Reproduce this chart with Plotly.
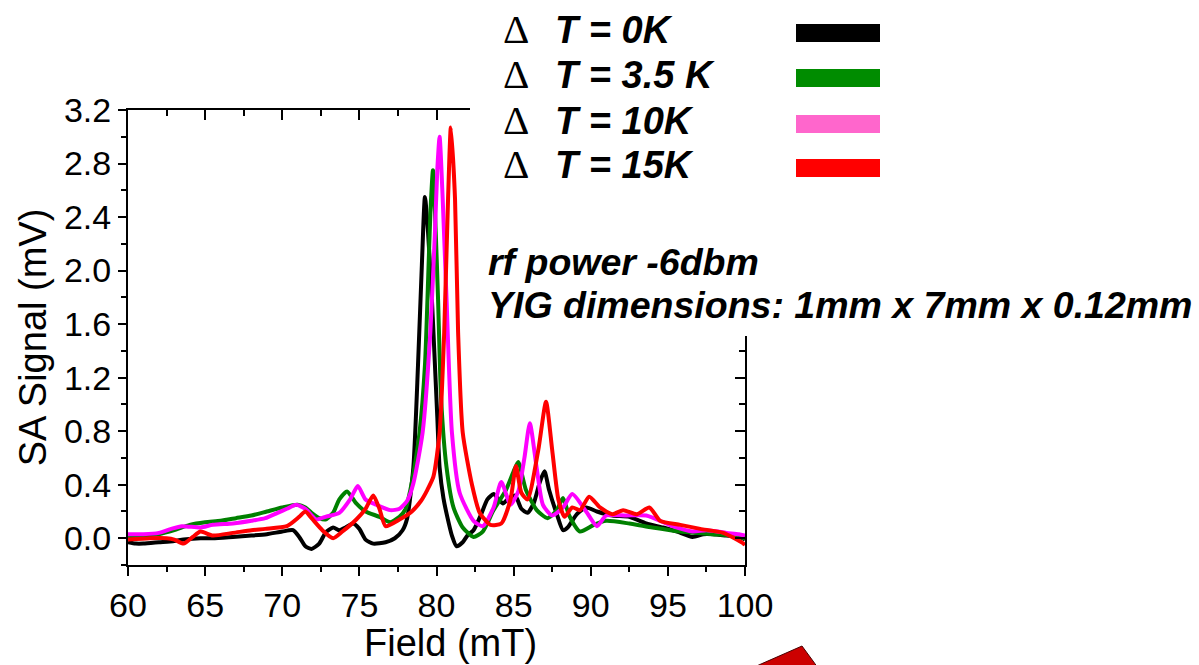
import plotly.graph_objects as go

# ---------------- data ----------------
black_field = [60.0, 60.5, 61.0, 62.0, 63.0, 63.6, 64.7, 65.5, 66.8, 68.0, 69.0, 70.0, 70.7,
               71.1, 71.5, 71.9, 72.4, 72.8, 73.3, 73.7, 74.1, 74.6, 75.0, 75.4, 75.9, 76.7,
               77.3, 77.8, 78.1, 78.5, 78.8, 79.05, 79.25, 79.45, 79.7, 79.9, 80.05, 80.2,
               80.45, 80.7, 81.0, 81.3, 81.7, 82.0, 82.4, 82.9, 83.3, 83.7, 84.3, 84.7, 85.1,
               85.5, 85.9, 86.3, 86.7, 87.0, 87.3, 87.8, 88.2, 88.5, 89.1, 89.7, 90.4, 91.4,
               92.5, 93.6, 94.7, 95.6, 96.6, 97.3, 97.9, 98.8, 99.6, 100.0]
black_signal = [-0.03, -0.04, -0.04, -0.03, -0.02, -0.01, 0.00, 0.00, 0.01, 0.02, 0.03, 0.05, 0.06,
                0.01, -0.06, -0.08, -0.04, 0.04, 0.08, 0.06, 0.08, 0.11, 0.07, -0.01, -0.04, -0.03,
                0.00, 0.06, 0.15, 0.53, 1.29, 2.04, 2.55, 2.29, 1.79, 1.29, 0.91, 0.53,
                0.30, 0.16, 0.02, -0.06, -0.03, 0.02, 0.06, 0.18, 0.29, 0.33, 0.26, 0.30, 0.32,
                0.22, 0.19, 0.26, 0.42, 0.50, 0.36, 0.18, 0.06, 0.08, 0.18, 0.23, 0.20, 0.17,
                0.16, 0.11, 0.08, 0.05, 0.01, 0.03, 0.03, 0.02, 0.01, -0.01]

green_field = [60.0, 61.0, 62.0, 63.0, 64.0, 65.0, 66.0, 67.0, 68.0, 69.0, 70.0, 71.0, 71.5,
               71.9, 72.4, 72.8, 73.3, 73.7, 74.2, 74.8, 75.4, 76.3, 77.0, 77.6, 78.0, 78.3,
               78.6, 78.9, 79.25, 79.45, 79.6, 79.77, 79.95, 80.1, 80.3, 80.65, 81.1, 81.7,
               82.4, 83.0, 83.7, 84.5, 85.0, 85.3, 85.8, 86.5, 87.2, 87.8, 88.2, 88.6, 89.3,
               90.2, 91.0, 92.5, 94.0, 95.8, 97.9, 99.0, 100.0]
green_signal = [0.01, 0.02, 0.03, 0.06, 0.10, 0.12, 0.13, 0.15, 0.17, 0.20, 0.23, 0.25, 0.23,
                0.19, 0.15, 0.14, 0.19, 0.29, 0.35, 0.26, 0.20, 0.16, 0.12, 0.16, 0.22, 0.36,
                0.55, 0.79, 1.29, 1.91, 2.42, 2.75, 2.29, 1.79, 1.04, 0.53, 0.23, 0.08,
                0.01, 0.05, 0.21, 0.36, 0.50, 0.57, 0.36, 0.21, 0.15, 0.21, 0.30, 0.17, 0.05,
                0.10, 0.13, 0.11, 0.08, 0.05, 0.03, 0.02, 0.00]

magenta_field = [60.0, 61.0, 62.0, 62.8, 63.5, 64.7, 65.5, 66.8, 68.0, 68.9, 69.7, 70.3, 70.9,
                 71.5, 72.2, 72.8, 73.7, 74.4, 74.9, 75.4, 76.1, 77.0, 77.6, 78.1, 78.5, 79.1,
                 79.6, 79.9, 80.05, 80.2, 80.4, 80.65, 81.0, 81.5, 82.4, 83.0, 83.7, 84.2, 84.8,
                 85.3, 85.7, 86.05, 86.5, 86.9, 87.5, 88.2, 88.8, 89.7, 90.4, 91.0, 92.3, 93.6,
                 95.3, 96.6, 97.5, 98.8, 99.6, 100.0]
magenta_signal = [0.03, 0.03, 0.04, 0.07, 0.09, 0.08, 0.10, 0.11, 0.13, 0.15, 0.19, 0.22, 0.25,
                  0.22, 0.14, 0.16, 0.19, 0.29, 0.39, 0.29, 0.25, 0.21, 0.22, 0.28, 0.41, 0.79,
                  1.54, 2.29, 2.75, 3.00, 2.54, 1.79, 0.79, 0.34, 0.13, 0.09, 0.23, 0.42, 0.25,
                  0.35, 0.60, 0.86, 0.52, 0.25, 0.17, 0.23, 0.33, 0.20, 0.09, 0.17, 0.17, 0.17,
                  0.09, 0.05, 0.06, 0.04, 0.03, 0.02]

red_field = [60.0, 61.4, 62.5, 63.0, 63.6, 64.2, 64.7, 65.5, 66.8, 68.0, 68.9, 70.3, 71.1,
             71.5, 71.9, 72.6, 73.3, 73.9, 74.8, 75.4, 75.9, 76.3, 76.7, 77.6, 78.4, 79.0,
             79.4, 79.8, 80.2, 80.5, 80.75, 80.93, 81.2, 81.4, 81.7, 82.3, 82.8, 83.5, 84.2,
             84.8, 85.15, 85.5, 85.9, 86.6, 87.1, 87.5, 87.9, 88.3, 88.8, 89.3, 89.9, 90.6,
             91.4, 92.1, 93.0, 93.8, 94.5, 95.8, 97.1, 98.6, 99.9, 100.0]
red_signal = [-0.01, 0.00, 0.00, -0.01, -0.04, 0.01, 0.05, 0.02, 0.04, 0.06, 0.07, 0.09, 0.16,
              0.20, 0.15, 0.06, 0.00, 0.05, 0.14, 0.22, 0.32, 0.22, 0.09, 0.14, 0.20, 0.28,
              0.36, 0.46, 0.79, 1.54, 2.54, 3.07, 2.54, 1.54, 0.79, 0.40, 0.19, 0.10, 0.11,
              0.29, 0.54, 0.34, 0.29, 0.66, 1.02, 0.66, 0.29, 0.16, 0.23, 0.21, 0.31, 0.23,
              0.18, 0.21, 0.18, 0.23, 0.13, 0.10, 0.07, 0.04, -0.04, -0.05]

series_names = ["\u0394T = 0K", "\u0394T = 3.5 K", "\u0394T = 10K", "\u0394T = 15K"]
legend_labels = ["T = 0K", "T = 3.5 K", "T = 10K", "T = 15K"]
x_ticks = [60, 65, 70, 75, 80, 85, 90, 95, 100]
y_ticks = [0.0, 0.4, 0.8, 1.2, 1.6, 2.0, 2.4, 2.8, 3.2]
x_title = "Field (mT)"
y_title = "SA Signal (mV)"
note_lines = ["rf power -6dbm", "YIG dimensions: 1mm x 7mm x 0.12mm"]

# ---------------- styling ----------------
line_colors = ["#000000", "#008000", "#FF00FF", "#FF0000"]
swatch_colors = ["#000000", "#008C00", "#FF66CC", "#FF0000"]
FONT = "Liberation Sans, Arial, sans-serif"
SERIF = "Liberation Serif, Times New Roman, serif"

W, H = 1199, 665
L, R, T, B = 128, 745, 110, 565  # plot area in pixels


def px(xp, yp):
    """pixel position -> paper coordinates"""
    return (xp - L) / (R - L), (B - yp) / (B - T)


fig = go.Figure()
for f, s, name, col in zip([black_field, green_field, magenta_field, red_field],
                           [black_signal, green_signal, magenta_signal, red_signal],
                           series_names, line_colors):
    fig.add_trace(go.Scatter(x=f, y=s, name=name, mode="lines",
                             line=dict(color=col, width=4, shape="spline", smoothing=0.6),
                             showlegend=False))

# helper trace for mirrored (inside-tick) axes
fig.add_trace(go.Scatter(x=[None], y=[None], xaxis="x2", yaxis="y2", showlegend=False,
                         hoverinfo="skip"))

axis_common = dict(showline=True, linewidth=2, linecolor="black", showgrid=False,
                   zeroline=False, tickwidth=2, tickcolor="black")

fig.update_layout(
    width=W, height=H,
    margin=dict(l=L, r=W - R, t=T, b=H - B, pad=0),
    paper_bgcolor="white", plot_bgcolor="white",
    font=dict(family=FONT, color="black"),
    xaxis=dict(range=[60, 100], tickvals=x_ticks, ticktext=[str(v) for v in x_ticks],
               ticks="outside", ticklen=9,
               minor=dict(ticks="outside", ticklen=5, dtick=2.5, tick0=60, tickwidth=2,
                          tickcolor="black"),
               tickfont=dict(size=34, family=FONT),
               **axis_common),
    yaxis=dict(range=[-0.2, 3.2], tickvals=y_ticks, ticktext=[f"{v:.1f}" for v in y_ticks],
               ticks="outside", ticklen=8,
               minor=dict(ticks="outside", ticklen=5, dtick=0.2, tick0=0, tickwidth=2,
                          tickcolor="black"),
               tickfont=dict(size=34, family=FONT),
               title=dict(text=y_title, font=dict(size=38, family=FONT), standoff=6),
               **axis_common),
    xaxis2=dict(range=[60, 100], overlaying="x", side="top", anchor="y2",
                tickvals=x_ticks, ticks="inside", ticklen=10, showticklabels=False,
                minor=dict(ticks="inside", ticklen=6, dtick=2.5, tick0=60, tickwidth=2,
                           tickcolor="black"),
                **axis_common),
    yaxis2=dict(range=[-0.2, 3.2], overlaying="y", side="right", anchor="x2",
                tickvals=y_ticks, ticks="inside", ticklen=10, showticklabels=False,
                minor=dict(ticks="inside", ticklen=6, dtick=0.2, tick0=0, tickwidth=2,
                           tickcolor="black"),
                **axis_common),
)

shapes = []
annotations = []

# x axis title (placed as text under the axis)
tx, ty = px(450, 643)
annotations.append(dict(text=x_title, x=tx, y=ty, xref="paper", yref="paper",
                        xanchor="center", yanchor="middle", showarrow=False,
                        font=dict(size=38, family=FONT, color="black")))

# white panel that hides the upper right part of the frame (behind the texts)
x0, y0 = px(470, 336)
x1, y1 = px(W + 5, -5)
shapes.append(dict(type="rect", xref="paper", yref="paper", x0=x0, y0=y0, x1=x1, y1=y1,
                   fillcolor="white", line=dict(width=0), layer="above"))

# legend (text on the left, colour bars on the right)
row_y = [29, 74, 120, 164]
for lab, col, yp in zip(legend_labels, swatch_colors, row_y):
    ax, ay = px(501, yp)
    annotations.append(dict(text="\u0394", x=ax, y=ay, xref="paper", yref="paper",
                            xanchor="left", yanchor="middle", showarrow=False,
                            font=dict(size=41, family=SERIF, color="black")))
    tx, ty = px(553, yp + 1)
    annotations.append(dict(text=f"<b><i>{lab}</i></b>", x=tx, y=ty, xref="paper", yref="paper",
                            xanchor="left", yanchor="middle", showarrow=False,
                            font=dict(size=38, family=FONT, color="black")))
    sx0, sy0 = px(796, yp + 13)
    sx1, sy1 = px(880, yp - 5)
    shapes.append(dict(type="rect", xref="paper", yref="paper", x0=sx0, y0=sy0, x1=sx1, y1=sy1,
                       fillcolor=col, line=dict(width=0), layer="above"))

for line, yp in zip(note_lines, [262, 305]):
    nx, ny = px(486, yp)
    annotations.append(dict(text=f"<b><i>{line}</i></b>", x=nx, y=ny, xref="paper", yref="paper",
                            xanchor="left", yanchor="middle", showarrow=False,
                            font=dict(size=37.5, family=FONT, color="black")))

# red decorative shape at the bottom right edge
p1 = px(802, 646)
p2 = px(752, 668)
p3 = px(818, 668)
p4 = px(813, 661)
path = f"M {p1[0]},{p1[1]} L {p2[0]},{p2[1]} L {p3[0]},{p3[1]} L {p4[0]},{p4[1]} Z"
shapes.append(dict(type="path", xref="paper", yref="paper", path=path,
                   fillcolor="#CC0000", line=dict(color="#4A0000", width=1), layer="above"))

fig.update_layout(shapes=shapes, annotations=annotations)

fig.write_html("out.html")
